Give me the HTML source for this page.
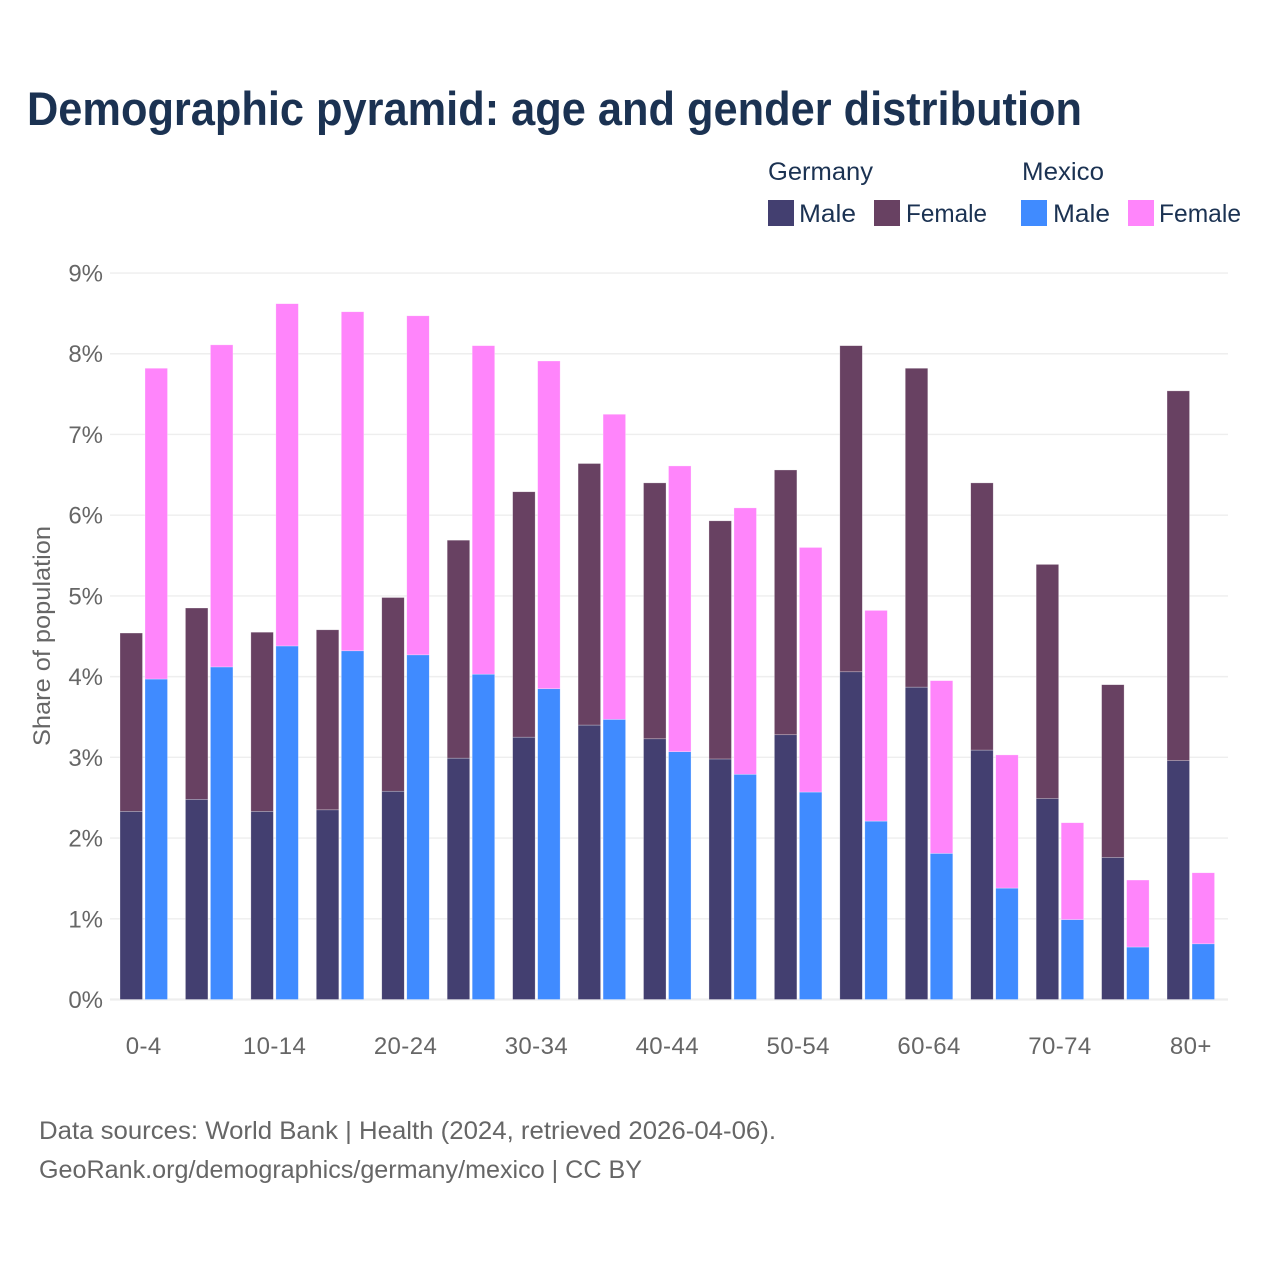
<!DOCTYPE html>
<html lang="en">
<head>
<meta charset="utf-8">
<title>Demographic pyramid: age and gender distribution</title>
<style>
  html, body { margin: 0; padding: 0; background: #fff; }
  svg { display: block; font-family: "Liberation Sans", "DejaVu Sans", sans-serif; }
</style>
</head>
<body>
<svg id="chart" width="1280" height="1280" viewBox="0 0 1280 1280" xmlns="http://www.w3.org/2000/svg">
  <rect width="1280" height="1280" fill="#ffffff"/>
  <text x="27" y="125" font-size="47" font-weight="700" fill="#1b3252" textLength="1055" lengthAdjust="spacingAndGlyphs">Demographic pyramid: age and gender distribution</text>

  <g font-size="25" fill="#1b3252">
    <text x="768" y="180" textLength="105" lengthAdjust="spacingAndGlyphs">Germany</text>
    <text x="1022" y="180" textLength="82" lengthAdjust="spacingAndGlyphs">Mexico</text>
    <rect x="768" y="200" width="26" height="26" fill="#433f70"/>
    <text x="799" y="222" textLength="57" lengthAdjust="spacingAndGlyphs">Male</text>
    <rect x="874" y="200" width="26" height="26" fill="#684162"/>
    <text x="906" y="222" textLength="81" lengthAdjust="spacingAndGlyphs">Female</text>
    <rect x="1021" y="200" width="26" height="26" fill="#408bff"/>
    <text x="1053" y="222" textLength="57" lengthAdjust="spacingAndGlyphs">Male</text>
    <rect x="1128" y="200" width="26" height="26" fill="#ff85fb"/>
    <text x="1159" y="222" textLength="82" lengthAdjust="spacingAndGlyphs">Female</text>
  </g>

  <g id="grid"></g>
  <g id="bars"></g>
  <g id="y-ticks"></g>
  <g id="x-ticks"></g>

  <text transform="translate(50 636) rotate(-90)" text-anchor="middle" font-size="24" fill="#666666" textLength="220" lengthAdjust="spacingAndGlyphs">Share of population</text>

  <text x="39" y="1139" font-size="25" fill="#666666" textLength="737" lengthAdjust="spacingAndGlyphs">Data sources: World Bank | Health (2024, retrieved 2026-04-06).</text>
  <text x="39" y="1178" font-size="25" fill="#666666" textLength="603" lengthAdjust="spacingAndGlyphs">GeoRank.org/demographics/germany/mexico | CC BY</text>
</svg>

<script>
const categories = ["0-4","5-9","10-14","15-19","20-24","25-29","30-34","35-39","40-44","45-49","50-54","55-59","60-64","65-69","70-74","75-79","80+"];
const germanyMale = [2.33,2.48,2.33,2.35,2.58,2.99,3.25,3.40,3.23,2.98,3.28,4.06,3.87,3.09,2.49,1.76,2.96];
const germanyFemale = [2.21,2.37,2.22,2.23,2.40,2.70,3.04,3.24,3.17,2.95,3.28,4.04,3.95,3.31,2.90,2.14,4.58];
const mexicoMale = [3.97,4.12,4.38,4.32,4.27,4.03,3.85,3.47,3.07,2.79,2.57,2.21,1.81,1.38,0.99,0.65,0.69];
const mexicoFemale = [3.85,3.99,4.24,4.20,4.20,4.07,4.06,3.78,3.54,3.30,3.03,2.61,2.14,1.65,1.20,0.83,0.88];
const yTicks = [0,1,2,3,4,5,6,7,8,9];

const NS = "http://www.w3.org/2000/svg";
const plotLeft = 110, plotRight = 1228;
const yZero = 999.5, yPerUnit = 80.72;
const firstCenter = 143.75, step = 65.44;
const barWidth = 22.5, barGap = 2.5;

function yScale(v) { return yZero - v * yPerUnit; }
function xCenter(i) { return firstCenter + i * step; }

function make(tag, attrs, parent) {
  const el = document.createElementNS(NS, tag);
  for (const k in attrs) el.setAttribute(k, attrs[k]);
  parent.appendChild(el);
  return el;
}

const gridG = document.getElementById("grid");
const yG = document.getElementById("y-ticks");
const xG = document.getElementById("x-ticks");
const barsG = document.getElementById("bars");

yTicks.forEach(function (t) {
  const line = make("line", { x1: plotLeft, x2: plotRight, y1: yScale(t), y2: yScale(t), stroke: "#eeeeee", "stroke-width": t === 0 ? 2.2 : 1.4 }, gridG);
  
  
  const label = make("text", { x: 103, y: yScale(t) + 8.5, "text-anchor": "end", "font-size": 24, fill: "#666666" }, yG);
  label.textContent = t + "%";
  
  
});

categories.forEach(function (c, i) {
  if (i % 2 === 0) {
    const label = make("text", { x: xCenter(i), y: 1054, "text-anchor": "middle", "font-size": 24, "letter-spacing": 0.4, fill: "#666666" }, xG);
    label.textContent = c;
    
    
  }
});

function drawStack(values, base, offset, color, name) {
  values.forEach(function (v, i) {
    const b = base ? base[i] : 0;
    const top = yScale(b + v);
    const bottom = yScale(b);
    const bar = make("rect", { x: xCenter(i) + offset, y: top, width: barWidth, height: bottom - top, fill: color, stroke: "#ffffff", "stroke-opacity": 0.45, "stroke-width": 0.6 }, barsG);
    
    
  });
}

const leftOffset = -barWidth - barGap / 2;
const rightOffset = barGap / 2;
drawStack(germanyMale, null, leftOffset, "#433f70", "bar-germany-male");
drawStack(germanyFemale, germanyMale, leftOffset, "#684162", "bar-germany-female");
drawStack(mexicoMale, null, rightOffset, "#408bff", "bar-mexico-male");
drawStack(mexicoFemale, mexicoMale, rightOffset, "#ff85fb", "bar-mexico-female");
</script>
</body>
</html>
